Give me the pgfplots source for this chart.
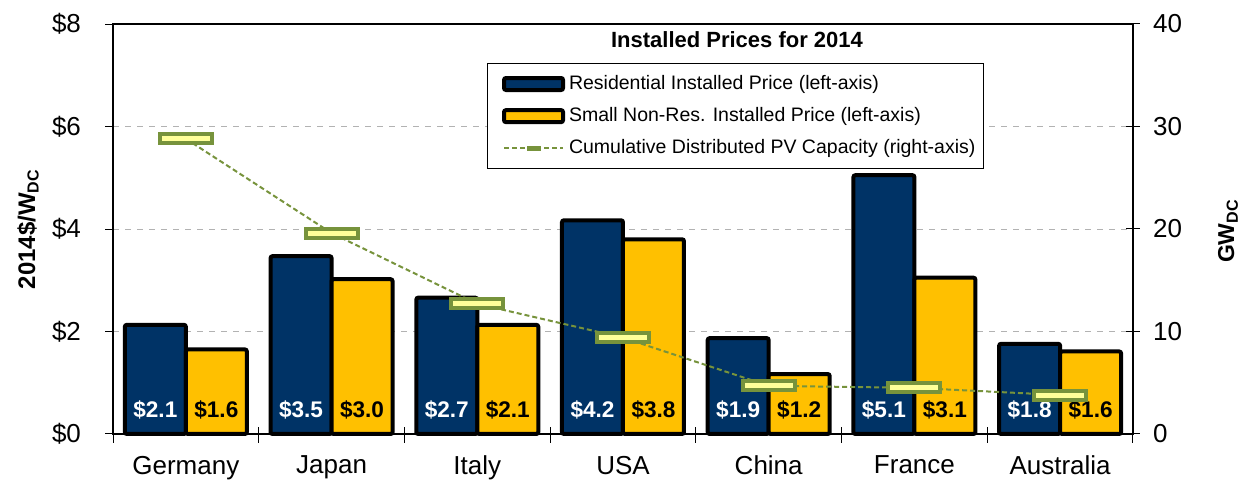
\documentclass[border=0pt]{standalone}
\usepackage{pgfplots}
\pgfplotsset{compat=1.18}
\usepackage{fontspec}
\setmainfont{Liberation Sans}
\definecolor{resblue}{RGB}{0,51,102}
\definecolor{nonresgold}{RGB}{255,192,0}
\definecolor{pvgreen}{RGB}{119,147,60}
\definecolor{pvfill}{RGB}{255,255,153}

% wide capacity marker
\pgfdeclareplotmark{pvbox}{%
  \pgfpathrectangle{\pgfpoint{-13pt}{-2.25pt}}{\pgfpoint{26pt}{4.5pt}}%
  \pgfusepathqfillstroke}

\newcommand{\barlab}[4]{%
  \node[font=\bfseries\fontsize{11.3}{13}\selectfont,text=#4,xshift=#2,yshift=12pt]
    at (axis cs:#1,0) {#3};}

\begin{document}
\begin{tikzpicture}
\useasboundingbox (0,0) rectangle (622pt,240.5pt);
\begin{axis}[
  at={(56.5pt,23.5pt)}, anchor=south west,
  scale only axis, width=510pt, height=205pt,
  xmin=-0.5, xmax=6.5, ymin=0, ymax=8,
  ybar=0pt, bar width=30.5pt,
  xtick={0,...,6},
  xticklabels={Germany,Japan,Italy,USA,China,France,Australia},
  minor xtick={-0.5,0.5,...,6.5},
  xtick pos=bottom,
  major x tick style={draw=none},
  minor x tick style={black,line width=0.5pt,yshift=3.5pt},
  minor tick length=8pt,
  xticklabel style={yshift=-3.5pt},
  ytick={0,2,4,6,8},
  yticklabels={\$0,\$2,\$4,\$6,\$8},
  yticklabel style={xshift=-8.5pt},
  tick align=outside, major tick length=4pt,
  ytick pos=left,
  ytick style={black,line width=0.5pt},
  tick label style={font=\fontsize{13}{15}\selectfont},
  ymajorgrids, grid style={gray!60,dashed,line width=0.5pt},
  axis line style={black,line width=1pt},
  clip=false,
]
\addplot[fill=resblue,draw=black,line width=2pt,rounded corners=1pt] coordinates {
 (0,2.13) (1,3.47) (2,2.66) (3,4.17) (4,1.87) (5,5.05) (6,1.76)};
\addplot[fill=nonresgold,draw=black,line width=2pt,rounded corners=1pt] coordinates {
 (0,1.65) (1,3.02) (2,2.13) (3,3.80) (4,1.17) (5,3.05) (6,1.61)};
\barlab{0}{-15.25pt}{\$2.1}{white}\barlab{0}{15.25pt}{\$1.6}{black}
\barlab{1}{-15.25pt}{\$3.5}{white}\barlab{1}{15.25pt}{\$3.0}{black}
\barlab{2}{-15.25pt}{\$2.7}{white}\barlab{2}{15.25pt}{\$2.1}{black}
\barlab{3}{-15.25pt}{\$4.2}{white}\barlab{3}{15.25pt}{\$3.8}{black}
\barlab{4}{-15.25pt}{\$1.9}{white}\barlab{4}{15.25pt}{\$1.2}{black}
\barlab{5}{-15.25pt}{\$5.1}{white}\barlab{5}{15.25pt}{\$3.1}{black}
\barlab{6}{-15.25pt}{\$1.8}{white}\barlab{6}{15.25pt}{\$1.6}{black}
\end{axis}
\begin{axis}[
  at={(56.5pt,23.5pt)}, anchor=south west,
  scale only axis, width=510pt, height=205pt,
  xmin=-0.5, xmax=6.5, ymin=0, ymax=40,
  axis x line=none, axis y line*=right,
  ytick={0,10,20,30,40}, yticklabels={0,10,20,30,40},
  yticklabel style={xshift=3pt},
  tick align=center, major tick length=7pt,
  ytick style={black,line width=0.5pt},
  tick label style={font=\fontsize{13}{15}\selectfont},
  axis line style={black,line width=1pt},
  clip=false,
  legend style={at={(rel axis cs:0.3667,0.905)},anchor=north west,
    draw=black,line width=0.5pt,fill=white,inner xsep=2pt,inner ysep=4pt,row sep=3.5pt,
    font=\fontsize{9.75}{12}\selectfont},
  legend cell align=left,
]
\addlegendimage{legend image code/.code={\path (4pt,0pt);\draw[fill=resblue,draw=black,line width=2pt,rounded corners=1pt] (10pt,-3pt) rectangle (39.5pt,3pt);}}
\addlegendentry{Residential Installed Price (left-axis)}
\addlegendimage{legend image code/.code={\path (4pt,0pt);\draw[fill=nonresgold,draw=black,line width=2pt,rounded corners=1pt] (10pt,-3pt) rectangle (39.5pt,3pt);}}
\addlegendentry{Small Non-Res. Installed Price (left-axis)}
\addlegendimage{legend image code/.code={\path (4pt,0pt);\draw[pvgreen,line width=1pt,dash pattern=on 2.5pt off 1.5pt] (10pt,0pt) -- (39.5pt,0pt);
  \fill[pvgreen] (21.5pt,-1pt) rectangle (28pt,1pt);}}
\addlegendentry{Cumulative Distributed PV Capacity (right-axis)\hspace{5pt}}
\addplot[pvgreen,line width=1pt,dash pattern=on 2.5pt off 1.5pt,mark=pvbox,
  mark options={solid,fill=pvfill,draw=pvgreen,line width=2pt}] coordinates {
 (0,28.8) (1,19.6) (2,12.7) (3,9.4) (4,4.7) (5,4.5) (6,3.8)};
\end{axis}
\node[font=\bfseries\fontsize{11}{13}\selectfont] at (368.5pt,220.5pt) {Installed Prices for 2014};
\node[rotate=90,font=\bfseries\fontsize{12}{14}\selectfont] at (14pt,126pt) {2014\$/W\textsubscript{DC}};
\node[rotate=90,font=\bfseries\fontsize{11.5}{13}\selectfont] at (614pt,125pt) {GW\textsubscript{DC}};
\end{tikzpicture}
\end{document}
